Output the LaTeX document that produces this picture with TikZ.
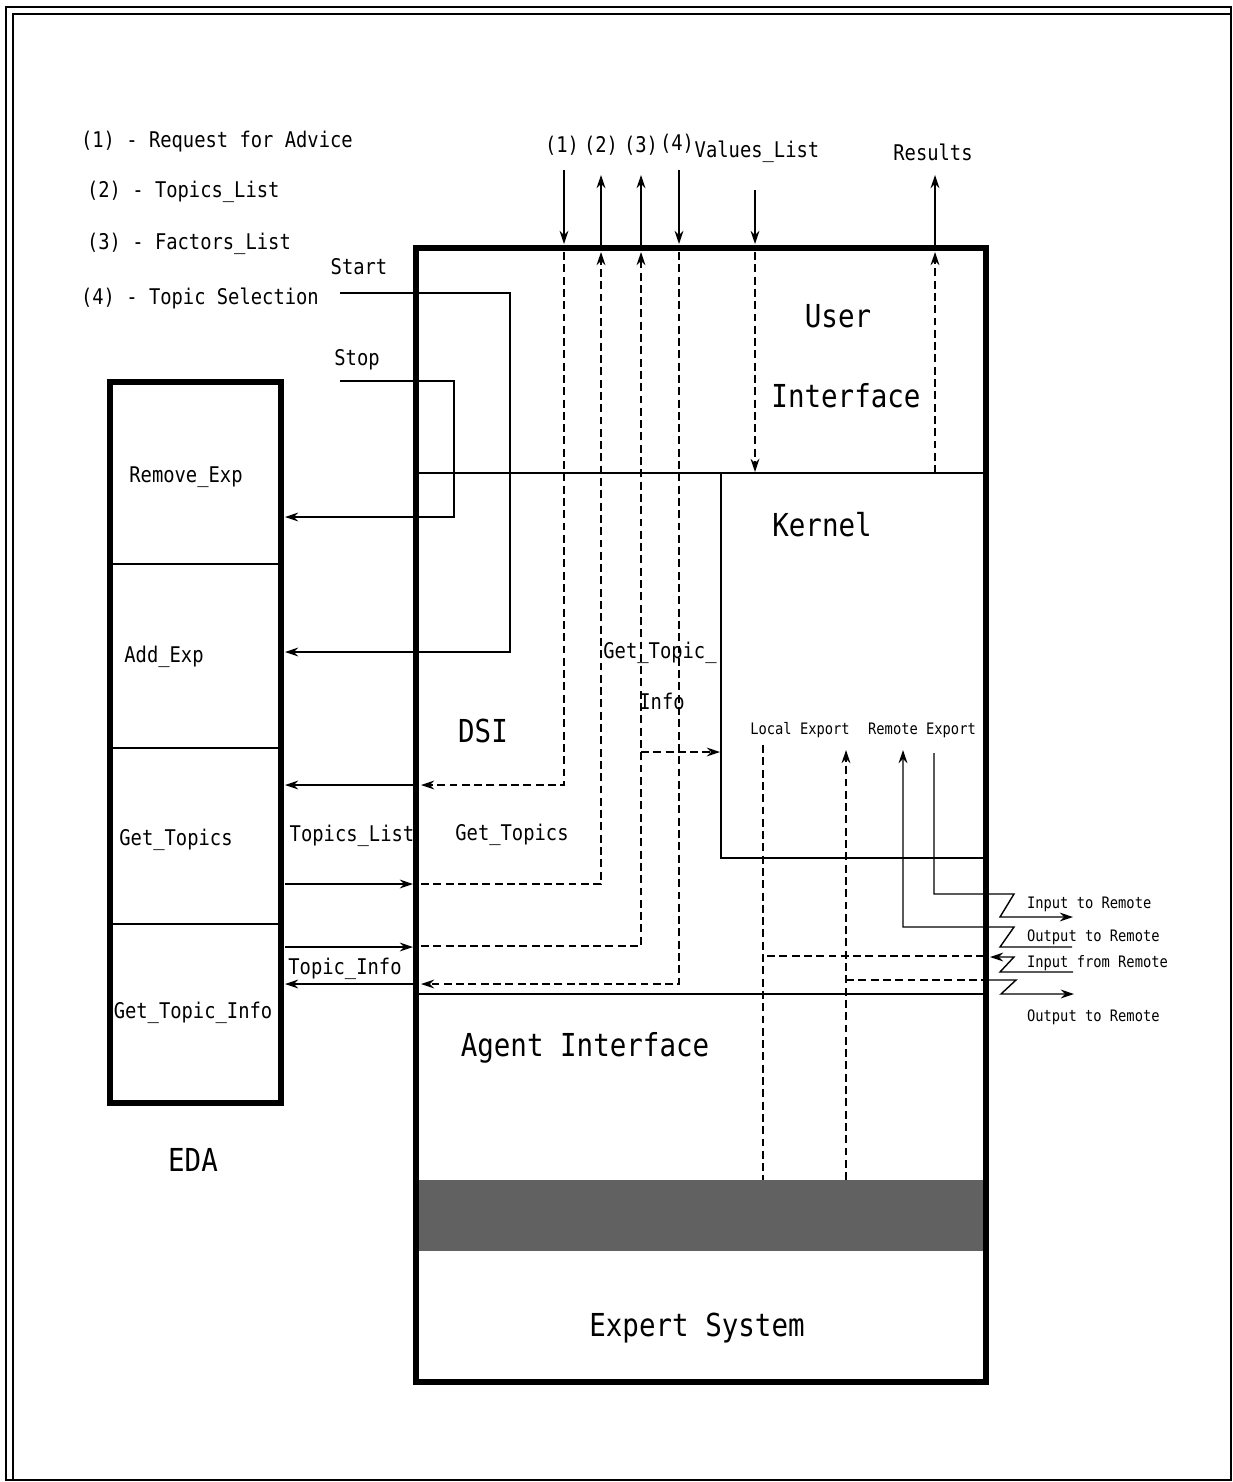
\documentclass[tikz,border=0pt]{standalone}
\usepackage{fontspec}
\setmainfont[FakeStretch=0.87]{DejaVu Sans Mono}
\usetikzlibrary{arrows.meta}

\tikzset{
  box/.style={line width=3.6pt},
  wire/.style={line width=0.8pt},
  dwire/.style={line width=0.8pt, dash pattern=on 4.5pt off 2.5pt},
  tip/.style={-{Stealth[length=7.5pt,width=5pt]}},
  lab/.style={font=\fontsize{12.3}{15}\selectfont, inner sep=1pt},
  biglab/.style={font=\fontsize{18}{22}\selectfont, inner sep=1pt},
  smalllab/.style={font=\fontsize{9}{11}\selectfont, inner sep=1pt},
}

\begin{document}
\begin{tikzpicture}[x=0.02cm,y=-0.02cm]
\useasboundingbox (0,0) rectangle (1233,1482);
% cornice
\draw[line width=1.6pt] (6,7) rectangle (1231,1480);
\draw[line width=1.1pt] (13,1480) -- (13,14) -- (1231,14);

% legenda
\node[lab, anchor=west] (leg1) at (79,142) {(1) - Request for Advice};
\node[lab, anchor=west] (leg2) at (85,192) {(2) - Topics\_List};
\node[lab, anchor=west] (leg3) at (85,244) {(3) - Factors\_List};
\node[lab, anchor=west] (leg4) at (79,298) {(4) - Topic Selection};

% blocchi
\coordinate (dsiTL) at (416,248);
\coordinate (dsiBR) at (986,1382);
\coordinate (edaTL) at (110,382);
\coordinate (edaBR) at (281,1103);
\fill[black!62] (419,1180) rectangle (983,1251);
\draw[box] (dsiTL) rectangle (dsiBR);
\draw[box] (edaTL) rectangle (edaBR);
\foreach \y in {564,748,924}
  \draw[wire] (110,\y) -- (281,\y);
% separatori
\coordinate (uiL) at (419,473);
\coordinate (uiR) at (984,473);
\coordinate (agL) at (419,994);
\coordinate (agR) at (984,994);
\coordinate (kTL) at (721,473);
\coordinate (kBL) at (721,858);
\coordinate (kBR) at (984,858);
\draw[wire] (uiL) -- (uiR);
\draw[wire] (agL) -- (agR);
\draw[wire] (kTL) -- (kBL) -- (kBR);

% etichette blocchi
\node[biglab] (user) at (838,316) {User};
\node[biglab] (iface) at (846,396) {Interface};
\node[biglab] (kernel) at (822,525) {Kernel};
\node[biglab] (dsi) at (483,731) {DSI};
\node[biglab] (agent) at (585,1048) {Agent Interface};
\node[biglab] (expert) at (697,1328) {Expert System};
\node[biglab] (eda) at (193,1160) {EDA};
\node[lab] (remexp) at (186,477) {Remove\_Exp};
\node[lab] (addexp) at (164,657) {Add\_Exp};
\node[lab] (gettop) at (176,840) {Get\_Topics};
\node[lab] (gettopinf) at (193,1013) {Get\_Topic\_Info};

% etichette in alto
\node[lab] (n1) at (562,146) {(1)};
\node[lab] (n2) at (601,146) {(2)};
\node[lab] (n3) at (641,146) {(3)};
\node[lab] (n4) at (677,144) {(4)};
\node[lab] (vals) at (757,152) {Values\_List};
\node[lab] (res) at (933,152) {Results};

% (1) richiesta
\coordinate (a1) at (564,170);
\coordinate (a1b) at (564,244);
\coordinate (a1c) at (564,252);
\coordinate (a1d) at (564,785);
\coordinate (a1e) at (421,785);
\coordinate (a1f) at (413,785);
\coordinate (a1g) at (285,785);
\draw[wire,tip] (a1) -- (a1b);
\draw[dwire,tip] (a1c) -- (a1d) -- (a1e);
\draw[wire,tip] (a1f) -- (a1g);
% (2) lista argomenti
\coordinate (a2) at (601,247);
\coordinate (a2b) at (601,175);
\coordinate (a2c) at (421,884);
\coordinate (a2d) at (601,884);
\coordinate (a2e) at (601,252);
\coordinate (a2f) at (285,884);
\coordinate (a2g) at (413,884);
\draw[wire,tip] (a2) -- (a2b);
\draw[dwire,tip] (a2c) -- (a2d) -- (a2e);
\draw[wire,tip] (a2f) -- (a2g);
% (3) lista fattori
\coordinate (a3) at (641,247);
\coordinate (a3b) at (641,175);
\coordinate (a3c) at (421,946);
\coordinate (a3d) at (641,946);
\coordinate (a3e) at (641,252);
\coordinate (a3f) at (285,947);
\coordinate (a3g) at (413,947);
\draw[wire,tip] (a3) -- (a3b);
\draw[dwire,tip] (a3c) -- (a3d) -- (a3e);
\draw[wire,tip] (a3f) -- (a3g);
% (4) selezione
\coordinate (a4) at (679,170);
\coordinate (a4b) at (679,244);
\coordinate (a4c) at (679,252);
\coordinate (a4d) at (679,984);
\coordinate (a4e) at (421,984);
\coordinate (a4f) at (413,984);
\coordinate (a4g) at (285,984);
\draw[wire,tip] (a4) -- (a4b);
\draw[dwire,tip] (a4c) -- (a4d) -- (a4e);
\draw[wire,tip] (a4f) -- (a4g);
% valori e risultati
\coordinate (v1) at (755,190);
\coordinate (v2) at (755,244);
\coordinate (v3) at (755,252);
\coordinate (v4) at (755,472);
\draw[wire,tip] (v1) -- (v2);
\draw[dwire,tip] (v3) -- (v4);
\coordinate (r1) at (935,247);
\coordinate (r2) at (935,175);
\coordinate (r3) at (935,473);
\coordinate (r4) at (935,252);
\draw[wire,tip] (r1) -- (r2);
\draw[dwire,tip] (r3) -- (r4);
% get topic info
\coordinate (g1) at (641,752);
\coordinate (g2) at (720,752);
\draw[dwire,tip] (g1) -- (g2);

% start e stop
\node[lab] (start) at (359,267) {Start};
\node[lab] (stop) at (357,360) {Stop};
\coordinate (s1) at (340,293);
\coordinate (s2) at (510,293);
\coordinate (s3) at (510,652);
\coordinate (s4) at (285,652);
\draw[wire,tip] (s1) -- (s2) -- (s3) -- (s4);
\coordinate (p1) at (340,381);
\coordinate (p2) at (454,381);
\coordinate (p3) at (454,517);
\coordinate (p4) at (285,517);
\draw[wire,tip] (p1) -- (p2) -- (p3) -- (p4);

% etichette frecce
\node[lab] (tlist) at (352,836) {Topics\_List};
\node[lab] (gtops) at (512,835) {Get\_Topics};
\node[lab] (tinfo) at (345,969) {Topic\_Info};
\node[lab] (gti1) at (660,653) {Get\_Topic\_};
\node[lab] (gti2) at (662,701) {Info};

% export
\node[smalllab] (locexp) at (800,730) {Local Export};
\node[smalllab] (remexport) at (922,730) {Remote Export};
\coordinate (le1) at (763,745);
\coordinate (le2) at (763,1180);
\coordinate (le3) at (763,956);
\draw[dwire] (le1) -- (le2);
\coordinate (lx1) at (846,1180);
\coordinate (lx2) at (846,750);
\coordinate (lx3) at (846,980);
\draw[dwire,tip] (lx1) -- (lx2);

% remoto
\coordinate (z1a) at (934,753);
\coordinate (z1b) at (934,894);
\coordinate (z1c) at (1014,894);
\coordinate (z1d) at (1000,917);
\coordinate (z1e) at (1073,917);
\draw[wire,tip] (z1a) -- (z1b) -- (z1c) -- (z1d) -- (z1e);
\coordinate (z2a) at (1072,947);
\coordinate (z2b) at (1000,947);
\coordinate (z2c) at (1014,927);
\coordinate (z2d) at (903,927);
\coordinate (z2e) at (903,750);
\draw[wire,tip] (z2a) -- (z2b) -- (z2c) -- (z2d) -- (z2e);
\coordinate (z3a) at (1073,972);
\coordinate (z3b) at (1000,972);
\coordinate (z3c) at (1014,957);
\coordinate (z3d) at (990,957);
\coordinate (z3e) at (984,956);
\draw[wire,tip] (z3a) -- (z3b) -- (z3c) -- (z3d);
\draw[dwire] (z3e) -- (le3);
\coordinate (z4a) at (984,980);
\coordinate (z4b) at (1016,980);
\coordinate (z4c) at (1001,994);
\coordinate (z4d) at (1074,994);
\draw[dwire] (lx3) -- (z4a);
\draw[wire,tip] (z4a) -- (z4b) -- (z4c) -- (z4d);
\node[smalllab, anchor=west] (inrem) at (1025,904) {Input to Remote};
\node[smalllab, anchor=west] (outrem) at (1025,937) {Output to Remote};
\node[smalllab, anchor=west] (inrem2) at (1025,963) {Input from Remote};
\node[smalllab, anchor=west] (outrem2) at (1025,1017) {Output to Remote};
\end{tikzpicture}
\end{document}
